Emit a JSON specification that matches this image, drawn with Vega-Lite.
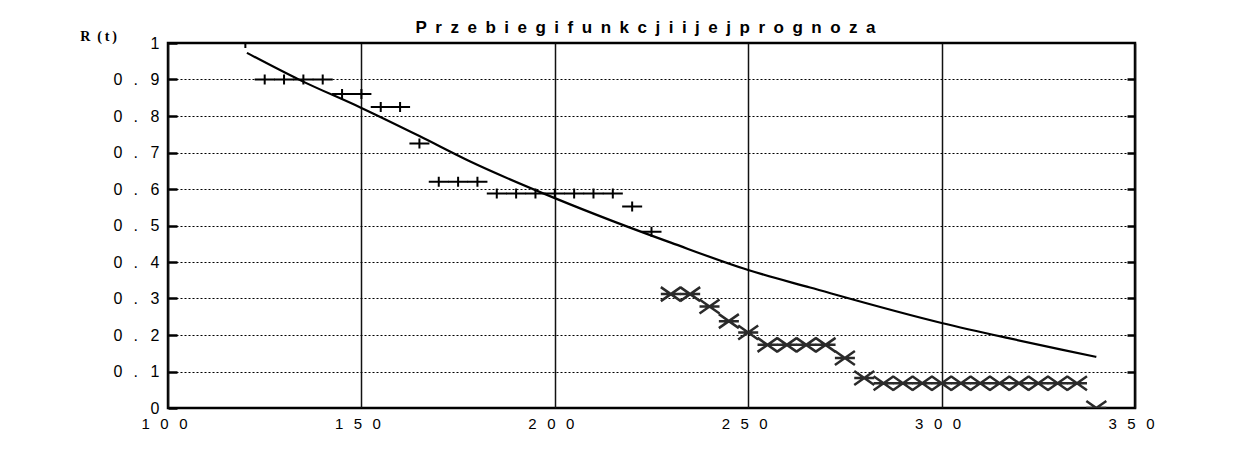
{
  "$schema": "https://vega.github.io/schema/vega-lite/v6.json",
  "width": 967,
  "height": 365,
  "autosize": {"type": "none"},
  "padding": {"left": 168, "top": 43, "right": 110, "bottom": 46},
  "background": "white",
  "title": {
    "text": "P\u2002r\u2002z\u2002e\u2002b\u2002i\u2002e\u2002g\u2002i\u2002f\u2002u\u2002n\u2002k\u2002c\u2002j\u2002i\u2002i\u2002j\u2002e\u2002j\u2002p\u2002r\u2002o\u2002g\u2002n\u2002o\u2002z\u2002a",
    "font": "Liberation Sans",
    "fontSize": 17,
    "fontWeight": 600,
    "color": "black",
    "anchor": "middle",
    "frame": "group",
    "offset": -8,
    "dx": -6
  },
  "config": {
    "view": {"stroke": "black", "strokeWidth": 2.5},
    "axis": {"labelFont": "Liberation Sans", "labelColor": "black"}
  },
  "data": {
    "values": [
      {"t": 120.4, "R": 0.973, "series": "fit"},
      {"t": 134, "R": 0.899, "series": "fit"},
      {"t": 150, "R": 0.822, "series": "fit"},
      {"t": 165, "R": 0.745, "series": "fit"},
      {"t": 178, "R": 0.676, "series": "fit"},
      {"t": 200, "R": 0.575, "series": "fit"},
      {"t": 215, "R": 0.512, "series": "fit"},
      {"t": 230, "R": 0.453, "series": "fit"},
      {"t": 250, "R": 0.378, "series": "fit"},
      {"t": 266, "R": 0.33, "series": "fit"},
      {"t": 300, "R": 0.233, "series": "fit"},
      {"t": 317, "R": 0.192, "series": "fit"},
      {"t": 331, "R": 0.16, "series": "fit"},
      {"t": 340, "R": 0.14, "series": "fit"},
      {"t": 120, "R": 1.0, "series": "plus"},
      {"t": 125, "R": 0.9, "series": "plus"},
      {"t": 130, "R": 0.9, "series": "plus"},
      {"t": 135, "R": 0.9, "series": "plus"},
      {"t": 140, "R": 0.9, "series": "plus"},
      {"t": 145, "R": 0.86, "series": "plus"},
      {"t": 150, "R": 0.86, "series": "plus"},
      {"t": 155, "R": 0.825, "series": "plus"},
      {"t": 160, "R": 0.825, "series": "plus"},
      {"t": 165, "R": 0.725, "series": "plus"},
      {"t": 170, "R": 0.62, "series": "plus"},
      {"t": 175, "R": 0.62, "series": "plus"},
      {"t": 180, "R": 0.62, "series": "plus"},
      {"t": 185, "R": 0.588, "series": "plus"},
      {"t": 190, "R": 0.588, "series": "plus"},
      {"t": 195, "R": 0.588, "series": "plus"},
      {"t": 200, "R": 0.588, "series": "plus"},
      {"t": 205, "R": 0.588, "series": "plus"},
      {"t": 210, "R": 0.588, "series": "plus"},
      {"t": 215, "R": 0.588, "series": "plus"},
      {"t": 220, "R": 0.552, "series": "plus"},
      {"t": 225, "R": 0.483, "series": "plus"},
      {"t": 230, "R": 0.312, "series": "star"},
      {"t": 235, "R": 0.312, "series": "star"},
      {"t": 240, "R": 0.278, "series": "star"},
      {"t": 245, "R": 0.238, "series": "star"},
      {"t": 250, "R": 0.207, "series": "star"},
      {"t": 255, "R": 0.173, "series": "star"},
      {"t": 260, "R": 0.173, "series": "star"},
      {"t": 265, "R": 0.173, "series": "star"},
      {"t": 270, "R": 0.173, "series": "star"},
      {"t": 275, "R": 0.137, "series": "star"},
      {"t": 280, "R": 0.082, "series": "star"},
      {"t": 285, "R": 0.068, "series": "star"},
      {"t": 290, "R": 0.068, "series": "star"},
      {"t": 295, "R": 0.068, "series": "star"},
      {"t": 300, "R": 0.068, "series": "star"},
      {"t": 305, "R": 0.068, "series": "star"},
      {"t": 310, "R": 0.068, "series": "star"},
      {"t": 315, "R": 0.068, "series": "star"},
      {"t": 320, "R": 0.068, "series": "star"},
      {"t": 325, "R": 0.068, "series": "star"},
      {"t": 330, "R": 0.068, "series": "star"},
      {"t": 335, "R": 0.068, "series": "star"},
      {"t": 340, "R": 0.0, "series": "star"}
    ]
  },
  "resolve": {"axis": {"y": "independent"}},
  "layer": [
    {
      "transform": [{"filter": "datum.series == 'fit'"}],
      "mark": {"type": "line", "color": "black", "strokeWidth": 2.2, "clip": true, "interpolate": "monotone"},
      "encoding": {
        "x": {
          "field": "t", "type": "quantitative",
          "scale": {"domain": [100, 350], "nice": false, "zero": false},
          "axis": {
            "values": [100, 150, 200, 250, 300, 350],
            "grid": true, "gridColor": "#111", "gridWidth": 1.5,
            "ticks": false, "domain": false,
            "labelExpr": "substring(datum.label,0,1)+'\u2002\u2009'+substring(datum.label,1,2)+'\u2002\u2009'+substring(datum.label,2,3)",
            "labelFontSize": 15, "labelPadding": 8, "labelOffset": -4, "labelFlush": false,
            "title": null
          }
        },
        "y": {
          "field": "R", "type": "quantitative",
          "scale": {"domain": [0, 1], "nice": false},
          "axis": {
            "values": [0, 0.1, 0.2, 0.3, 0.4, 0.5, 0.6, 0.7, 0.8, 0.9, 1],
            "offset": -9,
            "grid": true, "gridColor": "black", "gridDash": [2, 2], "gridWidth": 1.2,
            "domain": false, "ticks": true, "tickSize": 9, "tickWidth": 2.5, "tickColor": "black",
            "labelExpr": "datum.value == 0 ? '0' : (datum.value > 0.999 ? '1' : '0\u2002\u2009.\u2002\u2009\u200a' + round(datum.value*10))",
            "labelFontSize": 16, "labelPadding": 9, "labelFlush": false,
            "title": "R\u2002(\u2009t\u2009)", "titleAngle": 0, "titleX": -79, "titleY": -7,
            "titleFont": "Liberation Serif", "titleFontSize": 14, "titleFontWeight": "bold",
            "titleAlign": "center", "titleBaseline": "middle", "titleColor": "black"
          }
        }
      }
    },
    {
      "transform": [{"filter": "datum.series == 'plus'"}],
      "mark": {"type": "point", "shape": "M-1,0H1M0,-0.5V0.5", "size": 400, "strokeWidth": 2, "color": "black", "opacity": 1, "clip": true},
      "encoding": {
        "x": {"field": "t", "type": "quantitative"},
        "y": {
          "field": "R", "type": "quantitative",
          "axis": {
            "orient": "right", "values": [0.1, 0.2, 0.3, 0.4, 0.5, 0.6, 0.7, 0.8, 0.9],
            "offset": -8,
            "labels": false, "grid": false, "domain": false,
            "ticks": true, "tickSize": 8, "tickWidth": 2.5, "tickColor": "black", "title": null
          }
        }
      }
    },
    {
      "transform": [{"filter": "datum.series == 'star'"}],
      "mark": {"type": "point", "shape": "M-1,0H1M-1,-0.7L1,0.7M-1,0.7L1,-0.7", "size": 400, "strokeWidth": 2.5, "color": "#2a2a2a", "opacity": 1, "clip": true},
      "encoding": {
        "x": {"field": "t", "type": "quantitative"},
        "y": {"field": "R", "type": "quantitative", "axis": null}
      }
    }
  ]
}
